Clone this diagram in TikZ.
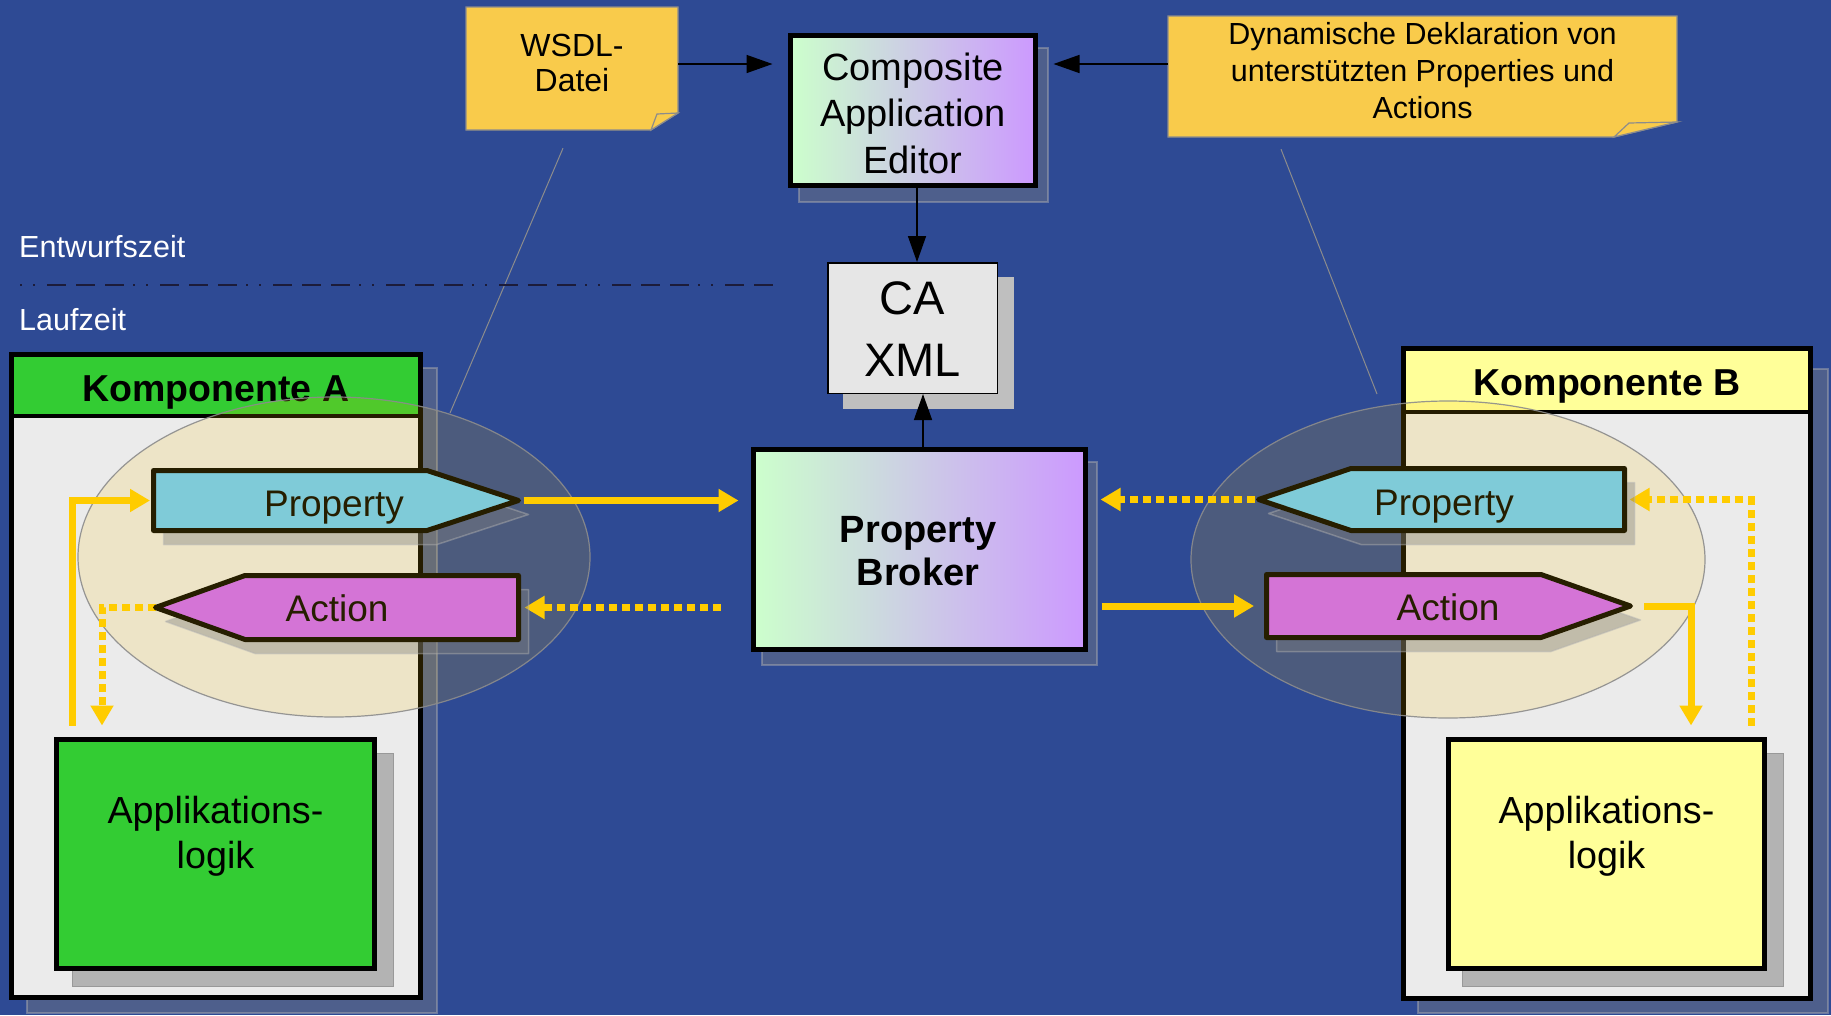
\documentclass[tikz,border=0pt]{standalone}
\usepackage{fontspec}
\setmainfont{Liberation Sans}
\usetikzlibrary{arrows.meta,calc}
\definecolor{bgblue}{HTML}{2E4A94}
\definecolor{notey}{HTML}{F9CB4B}
\definecolor{noteline}{HTML}{8C8C8C}
\definecolor{kgreen}{HTML}{33CC33}
\definecolor{kyellow}{HTML}{FFFF99}
\definecolor{kbody}{HTML}{EBEBEB}
\definecolor{propc}{HTML}{7FCBD8}
\definecolor{actc}{HTML}{D474D6}
\definecolor{pabord}{HTML}{261E00}
\definecolor{arrowy}{HTML}{FFCC00}
\definecolor{ellf}{HTML}{FABE00}
\definecolor{gradL}{HTML}{CCFFCC}
\definecolor{gradR}{HTML}{CC99FF}
\definecolor{caxfill}{HTML}{E6E6E6}
\definecolor{caxsh}{HTML}{BFBFBF}
\definecolor{alsh}{HTML}{B3B3B3}
\definecolor{sepc}{HTML}{1C1C3A}
\newcommand{\fsz}[2]{\fontsize{#1}{#2}\selectfont}
\begin{document}
\begin{tikzpicture}[x=1pt,y=-1pt,
  softshadow/.style={fill=gray, fill opacity=0.4, draw=gray!60!white, draw opacity=0.45, line width=1.5pt},
  bigbox/.style={draw=black, line width=5pt, inner sep=0pt},
  notestyle/.style={fill=notey, draw=noteline, line width=1.2pt, line join=miter},
  ellstyle/.style={fill=ellf, fill opacity=0.15, draw=noteline, draw opacity=0.9, line width=1.2pt},
  propstyle/.style={fill=propc, draw=pabord, line width=5pt, line join=round},
  actstyle/.style={fill=actc, draw=pabord, line width=5pt, line join=round},
  yarrow/.style={draw=arrowy, line width=7pt, -{Triangle[length=20pt,width=22pt]}},
  ydot/.style={yarrow, dash pattern=on 8pt off 5pt},
  blackarrow/.style={draw=black, line width=1.5pt, -{Triangle[length=26pt,width=18pt]}},
  lbl/.style={inner sep=0pt, anchor=base},
  multi/.style={inner sep=0pt, align=center},
  thinline/.style={draw=noteline, line width=1pt},
]
\useasboundingbox (0,0) rectangle (1831,1015);
\fill[bgblue] (0,0) rectangle (1831,1015);

% note anchors
\node[inner sep=0pt, minimum width=212pt, minimum height=123pt] (wsdl) at (572,68.5) {};
\node[inner sep=0pt, minimum width=509pt, minimum height=121pt] (dyn) at (1422.5,76.5) {};

% thin pointer lines
\coordinate (wsdlLineEnd) at (450,413);
\coordinate (dynLineEnd) at (1377,394);
\draw[thinline] ($(wsdl.south)+(-9,18)$) -- (wsdlLineEnd);
\draw[thinline] ($(dyn.south)+(-141.5,12)$) -- (dynLineEnd);

% separator
\coordinate (sepL) at (20,285);
\coordinate (sepR) at (773,285);
\draw[sepc, line width=1.5pt, dash pattern=on 2pt off 11pt on 2pt off 12pt on 19pt off 10pt on 19pt off 10pt on 19pt off 9pt] (sepL) -- (sepR);
\node[lbl, anchor=base west, text=white, font=\fsz{30.5}{36}] (entw) at (19,257) {Entwurfszeit};
\node[lbl, anchor=base west, text=white, font=\fsz{30.5}{36}] (lauf) at (19,330) {Laufzeit};

% Komponente A
\draw[softshadow] (27,368) rectangle (437,1013);
\node[inner sep=0pt, minimum width=409pt, minimum height=643pt, fill=kbody] (kA) at (216,676) {};
\coordinate (sepA) at (0,416);
\fill[kgreen] (kA.north west) rectangle (kA.east |- sepA);
\draw[line width=4.5pt] (kA.west |- sepA) -- (kA.east |- sepA);
\draw[line width=5pt] (kA.north west) rectangle (kA.south east);
\node[lbl, font=\bfseries\fsz{37.5}{40}] (kAt) at (216,401) {Komponente A};

% Komponente B
\draw[softshadow] (1418,369) rectangle (1828,1013);
\node[inner sep=0pt, minimum width=407pt, minimum height=650pt, fill=kbody] (kB) at (1607,673.5) {};
\coordinate (sepB) at (0,412);
\fill[kyellow] (kB.north west) rectangle (kB.east |- sepB);
\draw[line width=4.5pt] (kB.west |- sepB) -- (kB.east |- sepB);
\draw[line width=5pt] (kB.north west) rectangle (kB.south east);
\node[lbl, font=\bfseries\fsz{37.5}{40}] (kBt) at (1607,395) {Komponente B};

% Applikationslogik
\draw[fill=alsh, draw=gray!80, line width=1pt] (72,753) rectangle (393,986);
\node[bigbox, minimum width=318pt, minimum height=229pt, fill=kgreen] (alA) at (215.5,854) {};
\node[multi, font=\fsz{37.7}{45}] (alAt) at (215.5,835.8) {Applikations-\\logik};
\draw[fill=alsh, draw=gray!80, line width=1pt] (1462,753) rectangle (1783,986);
\node[bigbox, minimum width=316pt, minimum height=229pt, fill=kyellow] (alB) at (1606.5,854) {};
\node[multi, font=\fsz{37.7}{45}] (alBt) at (1606.5,835.8) {Applikations-\\logik};

% ellipses
\draw[ellstyle] (334,557) ellipse [x radius=256pt, y radius=160pt];
\draw[ellstyle] (1448,559.5) ellipse [x radius=257pt, y radius=158.5pt];

% central boxes
\draw[softshadow] (799,48) rectangle (1048,202);
\node[bigbox, minimum width=245pt, minimum height=150pt, left color=gradL, right color=gradR] (cae) at (913,110.5) {};
\node[multi, font=\fsz{38}{46.5}] (caet) at (913,113) {Composite\\Application\\Editor};

\fill[caxsh] (843,277) rectangle (1014,409);
\node[draw=black, line width=1.5pt, inner sep=0pt, minimum width=169.5pt, minimum height=130.5pt, fill=caxfill] (caxml) at (912.5,328) {};
\node[multi, font=\fsz{47}{62}] (caxmlt) at (912.5,329) {CA\\XML};

\draw[softshadow] (762,462) rectangle (1097,665);
\node[bigbox, minimum width=332pt, minimum height=200pt, left color=gradL, right color=gradR] (pb) at (919.5,549.5) {};
\node[multi, font=\bfseries\fsz{38}{43}] (pbt) at (918,551.4) {Property\\Broker};

% tips of property/action shapes
\coordinate (paTip) at (518.5,500.5);
\coordinate (paW) at (153.5,500.5);
\coordinate (aaTip) at (155.5,607.5);
\coordinate (aaE) at (518.5,607.5);
\coordinate (pbbTip) at (1258.5,499.5);
\coordinate (pbbE) at (1624.5,499.5);
\coordinate (abW) at (1266.5,606);
\coordinate (abTip) at (1630.5,606);
\coordinate (loopAx) at (72,0);
\coordinate (loopAx2) at (102,0);
\coordinate (loopBx) at (1691,0);
\coordinate (loopBx2) at (1751,0);

% yellow connectors
\draw[yarrow, shorten <=5pt, shorten >=12.5pt] (paTip) -- (paTip -| pb.west);
\draw[ydot, shorten <=30.5pt, shorten >=6pt] (pb.west |- aaE) -- (aaE);
\draw[ydot, shorten <=4pt, shorten >=12.5pt] (pbbTip) -- (pbbTip -| pb.east);
\draw[yarrow, shorten <=13.5pt, shorten >=12.5pt] (pb.east |- abW) -- (abW);
\draw[yarrow, shorten <=11.5pt, shorten >=3.5pt] (loopAx |- alA.north) -- (loopAx |- paW) -- (paW);
\draw[ydot, shorten >=11.5pt] (aaTip) -- (loopAx2 |- aaTip) -- (loopAx2 |- alA.north);
\draw[yarrow, shorten <=13.5pt, shorten >=11.5pt] (abTip) -- (loopBx |- abTip) -- (loopBx |- alB.north);
\draw[ydot, shorten <=11.5pt, shorten >=5pt] (loopBx2 |- alB.north) -- (loopBx2 |- pbbE) -- (pbbE);

% shadows of property/action
\begin{scope}[shift={(10,14)}]
\draw[softshadow, line join=round] (153.5,470.5) -- (427,470.5) -- (518.5,500.5) -- (427,530.5) -- (153.5,530.5) -- cycle;
\draw[softshadow, line join=round] (155.5,607.5) -- (245,575.5) -- (518.5,575.5) -- (518.5,639.5) -- (245,639.5) -- cycle;
\draw[softshadow, line join=round] (1258.5,499.5) -- (1351,468.5) -- (1624.5,468.5) -- (1624.5,530.5) -- (1351,530.5) -- cycle;
\draw[softshadow, line join=round] (1266.5,574.5) -- (1541,574.5) -- (1630.5,606) -- (1541,637.5) -- (1266.5,637.5) -- cycle;
\end{scope}

% property / action shapes
\draw[propstyle] (153.5,470.5) -- (427,470.5) -- (paTip) -- (427,530.5) -- (153.5,530.5) -- cycle;
\node[lbl, text=pabord, font=\fsz{37}{40}] (paT) at (334,516) {Property};
\draw[actstyle] (aaTip) -- (245,575.5) -- (518.5,575.5) -- (518.5,639.5) -- (245,639.5) -- cycle;
\node[lbl, text=pabord, font=\fsz{37}{40}] (aaT) at (337,621.5) {Action};
\draw[propstyle] (pbbTip) -- (1351,468.5) -- (1624.5,468.5) -- (1624.5,530.5) -- (1351,530.5) -- cycle;
\node[lbl, text=pabord, font=\fsz{37}{40}] (pbbT) at (1444,515) {Property};
\draw[actstyle] (1266.5,574.5) -- (1541,574.5) -- (abTip) -- (1541,637.5) -- (1266.5,637.5) -- cycle;
\node[lbl, text=pabord, font=\fsz{37}{40}] (abT) at (1448,620) {Action};

% notes
\draw[notestyle] (466,7) -- (678,7) -- (678,113) -- (651,130) -- (466,130) -- cycle;
\draw[notestyle] (651,130) -- (657,114) -- (678,113) -- cycle;
\node[multi, font=\fsz{32}{35}] (wsdlt) at (572,62.6) {WSDL-\\Datei};
\draw[notestyle] (1168,16) -- (1677,16) -- (1677,122) -- (1614,137) -- (1168,137) -- cycle;
\draw[notestyle] (1614,137) -- (1629,123) -- (1677,122) -- cycle;
\node[multi, font=\fsz{30.5}{36.7}] (dynt) at (1422.5,70.5) {Dynamische Deklaration von\\unterstützten Properties und\\Actions};

% black connectors
\coordinate (wsdlOut) at ($(wsdl.east)+(0,-4.5)$);
\coordinate (dynOut) at ($(dyn.west)+(0,-12.5)$);
\draw[blackarrow, shorten >=15.5pt] (wsdlOut) -- (wsdlOut -| cae.west);
\draw[blackarrow, shorten >=15.5pt] (dynOut) -- (dynOut -| cae.east);
\draw[blackarrow] ($(cae.south)+(4,0)$) -- ($(caxml.north)+(4.5,0)$);
\draw[blackarrow] ($(pb.north)+(3.5,0)$) -- ($(caxml.south)+(10.5,0)$);
\end{tikzpicture}
\end{document}
